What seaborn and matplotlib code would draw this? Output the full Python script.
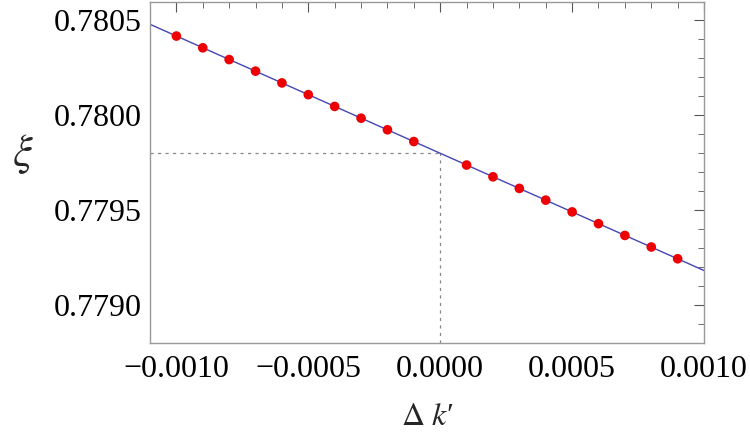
import numpy as np
import pandas as pd
import matplotlib
matplotlib.use('Agg')
import matplotlib.pyplot as plt
import matplotlib.ticker as mticker
import seaborn as sns

# data
dk = [-0.0010, -0.0009, -0.0008, -0.0007, -0.0006, -0.0005, -0.0004, -0.0003, -0.0002, -0.0001,
      0.0001, 0.0002, 0.0003, 0.0004, 0.0005, 0.0006, 0.0007, 0.0008, 0.0009]
xi = [0.780418, 0.780356, 0.780294, 0.780233, 0.780171, 0.780109, 0.780047, 0.779985, 0.779924, 0.779862,
      0.779738, 0.779676, 0.779615, 0.779553, 0.779491, 0.779429, 0.779367, 0.779306, 0.779244]
fit_x = [-0.0011, 0.0010]
fit_y = [0.780480, 0.779182]
xi0 = 0.7798

sns.set_style('white')
plt.rcParams['font.family'] = ['Liberation Serif', 'DejaVu Serif']
plt.rcParams['mathtext.fontset'] = 'stix'

fig = plt.figure(figsize=(7.5, 4.34), dpi=100)
ax = fig.add_axes([0.2, 0.2097, 0.7387, 0.7868])

pts = pd.DataFrame({'dk': dk, 'xi': xi})
sns.lineplot(x=fit_x, y=fit_y, ax=ax, color='#4545b5', linewidth=1.0, zorder=2)
sns.scatterplot(data=pts, x='dk', y='xi', ax=ax, color='#ee0000', s=48, edgecolor='none', zorder=3)

# dotted guides at dk = 0
ax.plot([fit_x[0], 0.0], [xi0, xi0], color='#888888', linestyle=(0, (2.5, 3.5)), linewidth=0.9, zorder=1)
ax.plot([0.0, 0.0], [0.7788, xi0], color='#888888', linestyle=(0, (2.5, 3.5)), linewidth=0.9, zorder=1)

ax.set_xlim(-0.0011, 0.0010)
ax.set_ylim(0.7788, 0.7806)

ax.xaxis.set_major_locator(mticker.MultipleLocator(0.0005))
ax.xaxis.set_minor_locator(mticker.MultipleLocator(0.0001))
ax.yaxis.set_major_locator(mticker.MultipleLocator(0.0005))
ax.yaxis.set_minor_locator(mticker.MultipleLocator(0.0001))

def fmt(v, pos):
    if abs(v) < 1e-12:
        v = 0.0
    return f"{v:.4f}".replace('-', '\u2212')

ax.xaxis.set_major_formatter(mticker.FuncFormatter(fmt))
ax.yaxis.set_major_formatter(mticker.FuncFormatter(fmt))

ax.tick_params(which='both', direction='in', top=True, right=True, colors='#555555',
               labelcolor='black', labelsize=23)
ax.tick_params(which='major', length=7, width=0.8)
ax.tick_params(which='minor', length=4, width=0.6)
ax.tick_params(axis='x', which='major', pad=9)
ax.tick_params(axis='y', which='major', pad=6)
for s in ax.spines.values():
    s.set_color('#999999')
    s.set_linewidth(1.0)

ax.set_xlabel(r"$\Delta\ k$′", fontsize=23)
ax.xaxis.set_label_coords(0.5, -0.175)
ax.set_ylabel(r"$\xi$", fontsize=32, rotation=0)
ax.yaxis.set_label_coords(-0.23, 0.49)

fig.savefig('out.png', dpi=100)
